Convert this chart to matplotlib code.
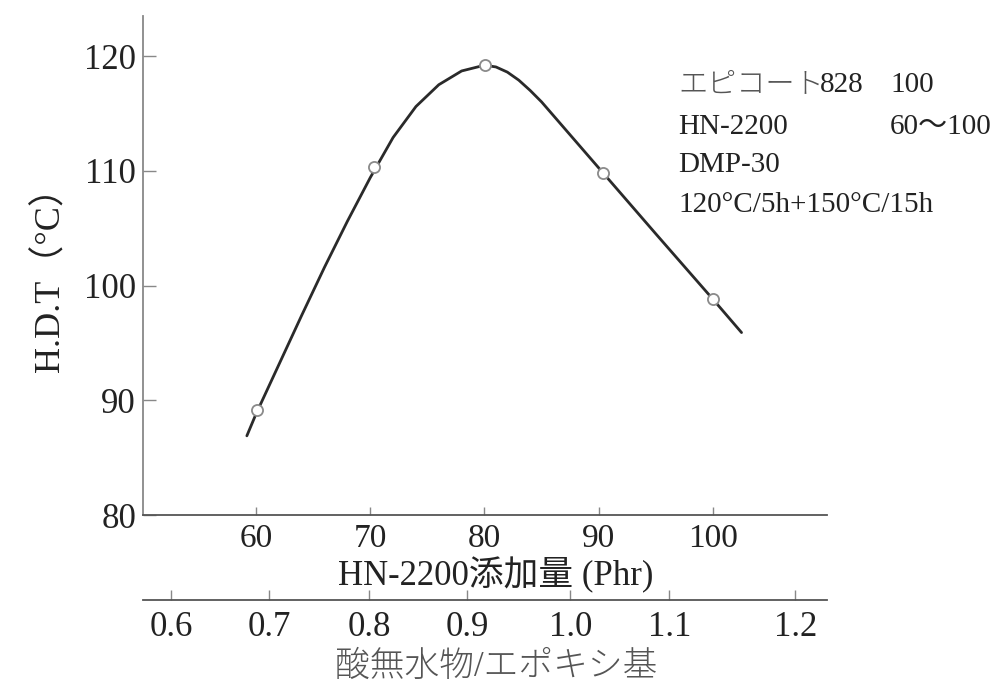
import matplotlib
matplotlib.use("Agg")
import matplotlib.pyplot as plt

# measured points (HN-2200 phr, H.D.T)
phr = [60.1, 70.3, 80.05, 90.4, 100.0]
hdt = [89.15, 110.3, 119.2, 109.8, 98.8]

# hand drawn curve
curve_x = [59.2, 60.0, 62.0, 64.0, 66.0, 68.0, 70.0, 72.0, 74.0, 76.0, 78.0, 80.0,
           81.0, 82.0, 83.0, 84.0, 85.0, 87.0, 90.0, 95.0, 100.0, 102.5]
curve_y = [86.9, 88.8, 93.1, 97.4, 101.6, 105.6, 109.4, 112.9, 115.6, 117.5, 118.7, 119.2,
           119.05, 118.6, 117.9, 117.0, 116.0, 113.7, 110.25, 104.5, 98.8, 95.9]

phr_ticks = [60, 70, 80, 90, 100]
hdt_ticks = [80, 90, 100, 110, 120]

# second scale: ratio labels and where they sit on the phr scale
ratio_labels = ["0.6", "0.7", "0.8", "0.9", "1.0", "1.1", "1.2"]
ratio_pos = [52.56, 61.14, 69.93, 78.51, 87.52, 96.19, 107.2]

fonts = ["Liberation Serif", "Noto Sans CJK JP"]
plt.rcParams["font.family"] = fonts
ink = "#222222"
soft = "#555555"

fig = plt.figure(figsize=(9.95, 6.91), dpi=100)
W, H = 995.0, 691.0

ax = fig.add_axes([143 / W, 1 - 515 / H, (827 - 143) / W, (515 - 16) / H])
ax.plot(curve_x, curve_y, color="#2a2a2a", lw=2.0, zorder=2,
        solid_joinstyle="round", solid_capstyle="round")
ax.plot(phr, hdt, "o", ms=8, mfc="white", mec="#8a8a8a", mew=1.3, zorder=3)
ax.set_xlim(50.11, 109.98)
ax.set_ylim(80, 123.49)
ax.set_xticks(phr_ticks)
ax.set_yticks(hdt_ticks)
ax.spines["top"].set_visible(False)
ax.spines["right"].set_visible(False)
ax.spines["left"].set_color("#888888")
ax.spines["left"].set_linewidth(1.3)
ax.spines["bottom"].set_color("#555555")
ax.spines["bottom"].set_linewidth(1.3)
ax.tick_params(axis="y", direction="in", length=9, width=1.0, color="#888888",
               labelsize=25, pad=5, labelcolor=ink)
ax.tick_params(axis="x", direction="in", length=6, width=1.0, color="#888888",
               labelsize=24, pad=6, labelcolor=ink)

# second axis under the first one
ax2 = fig.add_axes([143 / W, 1 - 600 / H, (827 - 143) / W, 0.0001])
ax2.set_xlim(ax.get_xlim())
ax2.set_yticks([])
for s in ["top", "left", "right"]:
    ax2.spines[s].set_visible(False)
ax2.spines["bottom"].set_color("#555555")
ax2.spines["bottom"].set_linewidth(1.3)
ax2.set_xticks(ratio_pos)
ax2.set_xticklabels(ratio_labels)
ax2.tick_params(axis="x", direction="in", length=7, width=1.0, color="#888888",
                labelsize=25, pad=8, labelcolor=ink)
ax2.patch.set_visible(False)

# axis titles
fig.text(50 / W, 1 - 270 / H, "H.D.T（°C）", rotation=90, ha="center", va="center",
         fontsize=26, color=ink)
fig.text(496 / W, 1 - 575 / H, "HN-2200添加量 (Phr)", ha="center", va="center",
         fontsize=25, color=ink)
fig.text(496 / W, 1 - 667 / H, "酸無水物/エポキシ基", ha="center", va="center",
         fontsize=25, color=soft, fontweight="light")

# formulation note
fs = 21
fig.text(678 / W, 1 - 85 / H, "エピコート", ha="left", va="center", fontsize=fs,
         color="#555555", fontweight="light")
fig.text(820 / W, 1 - 85 / H, "828", ha="left", va="center", fontsize=fs, color=ink)
fig.text(890 / W, 1 - 85 / H, "100", ha="left", va="center", fontsize=fs, color=ink)
fig.text(678 / W, 1 - 127 / H, "HN-2200", ha="left", va="center", fontsize=fs, color=ink)
fig.text(890 / W, 1 - 127 / H, "60～100", ha="left", va="center", fontsize=fs, color=ink)
fig.text(678 / W, 1 - 165 / H, "DMP-30", ha="left", va="center", fontsize=fs, color=ink)
fig.text(678 / W, 1 - 205 / H, "120°C/5h+150°C/15h", ha="left", va="center", fontsize=fs, color=ink)

fig.savefig("out.png", dpi=100)
